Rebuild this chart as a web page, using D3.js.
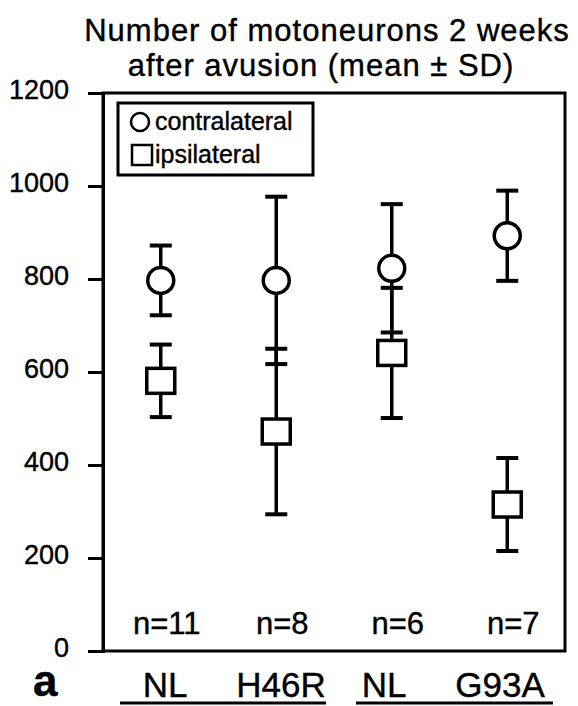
<!DOCTYPE html>
<html>
<head>
<meta charset="utf-8">
<script src="https://cdn.jsdelivr.net/npm/d3@7"></script>
<style>
  body { margin: 0; background: #fff; }
  text { font-family: "Liberation Sans", Arial, Helvetica, sans-serif; fill: #000; stroke: #000; stroke-width: 0.4; }
</style>
</head>
<body>
<svg class="svgChart"></svg>
<script>
// data
var groups = ['NL', 'H46R', 'NL2', 'G93A'];
var groupLabels = ['NL', 'H46R', 'NL', 'G93A'];
var nLabels = ['n=11', 'n=8', 'n=6', 'n=7'];
var contraMean = [797, 797, 823, 893];
var contraSD = [75, 180, 138, 97];
var ipsiMean = [581, 472, 641, 315];
var ipsiSD = [78, 178, 140, 100];
var yTicks = [0, 200, 400, 600, 800, 1000, 1200];

var width = 578;
var height = 706;
var margin = { top: 93, right: 13, bottom: 55, left: 103 };

var svg = d3.select('.svgChart')
  .attr('width', width)
  .attr('height', height);

var xScale = d3.scaleBand()
  .domain(groups)
  .range([margin.left, width - margin.right])
  .padding(0);

var yScale = d3.scaleLinear()
  .domain([0, 1200])
  .range([height - margin.bottom, margin.top]);

var cx = function(i) { return xScale(groups[i]) + xScale.bandwidth() / 2; };

// title (two lines, slightly spaced out like the scanned original)
svg.append('text')
  .attr('x', 327)
  .attr('y', 41)
  .attr('text-anchor', 'middle')
  .attr('font-size', 31)
  .attr('letter-spacing', 1)
  .text('Number of motoneurons 2 weeks');
svg.append('text')
  .attr('x', 321)
  .attr('y', 76)
  .attr('text-anchor', 'middle')
  .attr('font-size', 31)
  .attr('letter-spacing', 1)
  .text('after avusion (mean \u00b1 SD)');

// frame
svg.append('rect')
  .attr('x', margin.left)
  .attr('y', yScale(1200))
  .attr('width', width - margin.right - margin.left)
  .attr('height', yScale(0) - yScale(1200))
  .attr('fill', 'none')
  .attr('stroke', '#000')
  .attr('stroke-width', 3);

// y axis
var yAxis = d3.axisLeft(yScale)
  .tickValues(yTicks)
  .tickSize(15)
  .tickPadding(19)
  .tickFormat(d3.format('d'));

var yG = svg.append('g')
  .attr('class', 'yAxis')
  .attr('transform', 'translate(' + margin.left + ',0)')
  .call(yAxis);
yG.select('.domain').attr('stroke-width', 3);
yG.selectAll('.tick line').attr('stroke-width', 3);
yG.selectAll('.tick text')
  .attr('font-size', 27)
  .attr('dy', '0.2em')
  .style('font-family', '"Liberation Sans", Arial, sans-serif');

// legend
var legend = svg.append('g').attr('class', 'legend');
legend.append('rect')
  .attr('x', 118).attr('y', 103)
  .attr('width', 195).attr('height', 72)
  .attr('fill', '#fff')
  .attr('stroke', '#000')
  .attr('stroke-width', 3);
legend.append('circle')
  .attr('cx', 140).attr('cy', 122).attr('r', 9)
  .attr('fill', '#fff').attr('stroke', '#000').attr('stroke-width', 2.5);
legend.append('rect')
  .attr('x', 132).attr('y', 145).attr('width', 20).attr('height', 20)
  .attr('fill', '#fff').attr('stroke', '#000').attr('stroke-width', 2.5);
legend.append('text')
  .attr('x', 155).attr('y', 130)
  .attr('font-size', 25)
  .text('contralateral');
legend.append('text')
  .attr('x', 155).attr('y', 163)
  .attr('font-size', 25)
  .text('ipsilateral');

// error bars (drawn first so markers sit on top)
function drawBars(mean, sd, cls) {
  var g = svg.append('g').attr('class', cls);
  g.selectAll('line.stem')
    .data(mean)
    .enter()
    .append('line')
      .attr('class', 'stem')
      .attr('x1', (d, i) => cx(i))
      .attr('x2', (d, i) => cx(i))
      .attr('y1', (d, i) => yScale(d - sd[i]))
      .attr('y2', (d, i) => yScale(d + sd[i]))
      .attr('stroke', '#000')
      .attr('stroke-width', 3.5);
  [-1, 1].forEach(function(s) {
    g.selectAll('line.cap' + (s + 1))
      .data(mean)
      .enter()
      .append('line')
        .attr('class', 'cap' + (s + 1))
        .attr('x1', (d, i) => cx(i) - 11)
        .attr('x2', (d, i) => cx(i) + 11)
        .attr('y1', (d, i) => yScale(d + s * sd[i]))
        .attr('y2', (d, i) => yScale(d + s * sd[i]))
        .attr('stroke', '#000')
        .attr('stroke-width', 4);
  });
}
drawBars(contraMean, contraSD, 'contraBars');
drawBars(ipsiMean, ipsiSD, 'ipsiBars');

// markers
svg.append('g')
  .selectAll('circle')
  .data(contraMean)
  .enter()
  .append('circle')
    .attr('cx', (d, i) => cx(i))
    .attr('cy', d => yScale(d))
    .attr('r', 13)
    .attr('fill', '#fff')
    .attr('stroke', '#000')
    .attr('stroke-width', 3.5);

svg.append('g')
  .selectAll('rect')
  .data(ipsiMean)
  .enter()
  .append('rect')
    .attr('x', (d, i) => cx(i) - 14)
    .attr('y', d => yScale(d) - 12.5)
    .attr('width', 28)
    .attr('height', 25)
    .attr('fill', '#fff')
    .attr('stroke', '#000')
    .attr('stroke-width', 3.5);

// n labels
svg.append('g')
  .selectAll('text')
  .data(nLabels)
  .enter()
  .append('text')
    .attr('x', (d, i) => cx(i) + 6)
    .attr('y', 634)
    .attr('text-anchor', 'middle')
    .attr('font-size', 31)
    .text(d => d);

// group labels below the plot
var labelX = [165, 281, 384, 500];
svg.append('g')
  .selectAll('text')
  .data(groupLabels)
  .enter()
  .append('text')
    .attr('x', (d, i) => labelX[i])
    .attr('y', 697)
    .attr('text-anchor', 'middle')
    .attr('font-size', 35)
    .text(d => d);

// underline the two pairs
svg.append('line')
  .attr('x1', 120).attr('x2', 326).attr('y1', 703).attr('y2', 703)
  .attr('stroke', '#000').attr('stroke-width', 3);
svg.append('line')
  .attr('x1', 356).attr('x2', 553).attr('y1', 703).attr('y2', 703)
  .attr('stroke', '#000').attr('stroke-width', 3);

// panel letter
svg.append('text')
  .attr('x', 33)
  .attr('y', 696)
  .attr('font-size', 44)
  .attr('font-weight', 'bold')
  .text('a');
</script>
</body>
</html>
